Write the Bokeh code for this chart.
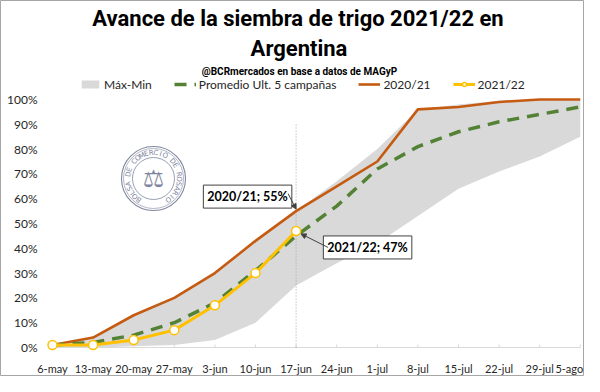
import math
from bokeh.plotting import figure
from bokeh.models import (Range1d, Label, Legend, LegendItem, Arrow, NormalHead, Span)
from bokeh.core.properties import value
from bokeh.embed import file_html
from bokeh.resources import INLINE

# ---------------- data ----------------
categories = ["6-may", "13-may", "20-may", "27-may", "3-jun", "10-jun", "17-jun",
              "24-jun", "1-jul", "8-jul", "15-jul", "22-jul", "29-jul", "5-ago"]
max_vals = [1, 4, 13, 20, 30, 43, 55, 67, 80, 96, 98, 99.5, 100, 100]
min_vals = [0, 0, 0.5, 1, 3, 10, 25, 34, 42, 53, 64, 71, 77, 85]
promedio = [1, 2, 5, 10, 18, 31, 45, 57, 72, 81, 87, 91, 94, 97]
c2020_21 = [1, 4, 13, 20, 30, 43, 55, 65, 75, 96, 97, 99, 100, 100]
c2021_22 = [1, 1, 3, 7, 17, 30, 47]
y_ticks = list(range(0, 101, 10))
y_tick_labels = [f"{t}%" for t in y_ticks]

idx = list(range(len(categories)))
idx_22 = idx[:len(c2021_22)]
last22 = len(c2021_22) - 1

# ---------------- layout ----------------
# the frame spans the whole canvas so that every text drawn inside it is not clipped
W, H = 584, 376
FW, FH = W, H
PX, PY = 40.6, 2.48          # px per category, px per percent
x0 = -52 / PX                # first category 52 px from the left edge
x1 = x0 + FW / PX
y0 = -(H - 347) / PY         # 0 % line 29 px above the bottom edge
y1 = y0 + FH / PY

p = figure(width=W, height=H, output_backend="svg", toolbar_location=None,
           x_range=Range1d(x0, x1), y_range=Range1d(y0, y1),
           min_border=0)
p.outline_line_color = "#a6a6a6"
p.outline_line_width = 1
p.grid.visible = False
p.axis.visible = False
p.background_fill_color = "white"
p.border_fill_color = "white"

FONT = "Lato"
TXT = "#262626"

# y tick labels
p.text(x=[0] * len(y_ticks), y=y_ticks, text=y_tick_labels, x_offset=-15,
       text_align="right", text_baseline="middle",
       text_font=value(FONT), text_font_size="12px", text_color=TXT)

# x axis baseline, ticks and category labels
p.segment(x0=[idx[0]], y0=[0], x1=[idx[-1]], y1=[0], line_color="#d9d9d9", line_width=1)
p.segment(x0=idx, y0=[0] * len(idx), x1=idx, y1=[3 / PY] * len(idx),
          line_color="#d9d9d9", line_width=1)
x_lab_off = [0] * (len(idx) - 1) + [-11]   # keep the last label inside the canvas
p.text(x=idx, y=[0] * len(idx), text=categories, y_offset=21, x_offset=x_lab_off,
       text_align="center", text_baseline="middle",
       text_font=value(FONT), text_font_size="11px", text_color=TXT)

# ---------------- logo (decorative seal) ----------------
LOGO_X = (153 - 52) / PX
LOGO_Y = (347 - 178) / PY
LOGO_C = "#7f879e"
for r, lw in [(32, 1.1), (30, 0.6), (21, 0.8)]:
    p.circle(x=[LOGO_X], y=[LOGO_Y], radius=r, radius_units="screen",
             fill_color=None, line_color=LOGO_C, line_width=lw)
seal = "BOLSA DE COMERCIO DE ROSARIO"
n = len(seal)
start, span = 235.0, 290.0
lx, ly, la, lt = [], [], [], []
for i, ch in enumerate(seal):
    th = math.radians(start - i * span / (n - 1))
    lx.append(LOGO_X + 25.5 * math.cos(th) / PX)
    ly.append(LOGO_Y + 25.5 * math.sin(th) / PY)
    la.append(th - math.pi / 2)
    lt.append(ch)
p.text(x=lx, y=ly, text=lt, angle=la, text_align="center", text_baseline="middle",
       text_font=value("DejaVu Sans"), text_font_size="7px", text_color=LOGO_C)
p.text(x=[LOGO_X], y=[LOGO_Y], text=["\u2696"], text_align="center",
       text_baseline="middle", text_font=value("DejaVu Sans"),
       text_font_size="24px", text_color=LOGO_C)

# ---------------- series ----------------
band = p.varea(x=idx, y1=min_vals, y2=max_vals, fill_color="#d9d9d9")
vline = p.segment(x0=[idx[last22]], y0=[0], x1=[idx[last22]], y1=[90.5],
                  line_color="#a6a6a6", line_width=1, line_dash="1 2")
orange = p.line(idx, c2020_21, line_color="#c55a11", line_width=2.6)
green = p.line(idx, promedio, line_color="#548235", line_width=3.5, line_dash="12 8")
yl = p.line(idx_22, c2021_22, line_color="#ffc000", line_width=3)
ym = p.scatter(idx_22, c2021_22, size=9, marker="circle", fill_color="white",
               line_color="#ffc000", line_width=1.5)

# ---------------- annotations ----------------
xa, ya = idx[last22], c2020_21[last22]
xb, yb = idx[last22], c2021_22[last22]
p.add_layout(Label(x=xa, y=ya, x_offset=-48.5, y_offset=14.5,
                   text=f"2020/21; {ya}%",
                   text_align="center", text_baseline="middle",
                   text_font=FONT, text_font_style="bold", text_font_size="12.5px",
                   text_color="black", background_fill_color="white",
                   border_line_color="#404040", border_line_width=1, padding=4))
p.add_layout(Label(x=xb, y=yb, x_offset=71.5, y_offset=-16.5,
                   text=f"2021/22; {yb}%",
                   text_align="center", text_baseline="middle",
                   text_font=FONT, text_font_style="bold", text_font_size="12.5px",
                   text_color="black", background_fill_color="white",
                   border_line_color="#404040", border_line_width=1, padding=4))
p.add_layout(Arrow(x_start=xa - 8 / PX, y_start=ya + 17.5 / PY,
                   x_end=xa, y_end=ya + 2 / PY,
                   line_color="#404040", line_width=1,
                   end=NormalHead(size=5, fill_color="#404040", line_color="#404040")))
p.add_layout(Arrow(x_start=xb + 32 / PX, y_start=yb - 16.5 / PY,
                   x_end=xb + 5 / PX, y_end=yb - 3 / PY,
                   line_color="#404040", line_width=1,
                   end=NormalHead(size=5, fill_color="#404040", line_color="#404040")))

# ---------------- titles (screen units, relative to frame bottom-left) ----------------
TITLE_FONT = "Roboto"
p.add_layout(Label(x=297.5, y=H - 18, x_units="screen", y_units="screen",
                   text="Avance de la siembra de trigo 2021/22 en",
                   text_align="center", text_baseline="middle",
                   text_font=TITLE_FONT, text_font_style="bold",
                   text_font_size="22px", text_color="black"))
p.add_layout(Label(x=298.5, y=H - 48, x_units="screen", y_units="screen",
                   text="Argentina", text_align="center", text_baseline="middle",
                   text_font=TITLE_FONT, text_font_style="bold",
                   text_font_size="22px", text_color="black"))
p.add_layout(Label(x=299, y=H - 70.5, x_units="screen", y_units="screen",
                   text="@BCRmercados en base a datos de MAGyP",
                   text_align="center", text_baseline="middle",
                   text_font=TITLE_FONT, text_font_style="bold",
                   text_font_size="10px", text_color="black"))

# ---------------- legend ----------------
legend = Legend(items=[
    LegendItem(label="Máx-Min", renderers=[band]),
    LegendItem(label="Promedio Ult. 5 campañas", renderers=[green]),
    LegendItem(label="2020/21", renderers=[orange]),
    LegendItem(label="2021/22", renderers=[yl, ym]),
], orientation="horizontal", location=(79, H - 92), margin=0, padding=0,
    spacing=22, glyph_width=22, glyph_height=10, label_standoff=3,
    label_height=16,
    label_text_font=FONT, label_text_font_size="12px", label_text_color=TXT,
    background_fill_alpha=0, border_line_color=None)
p.add_layout(legend, "center")

open("out.html", "w").write(file_html(p, INLINE))
